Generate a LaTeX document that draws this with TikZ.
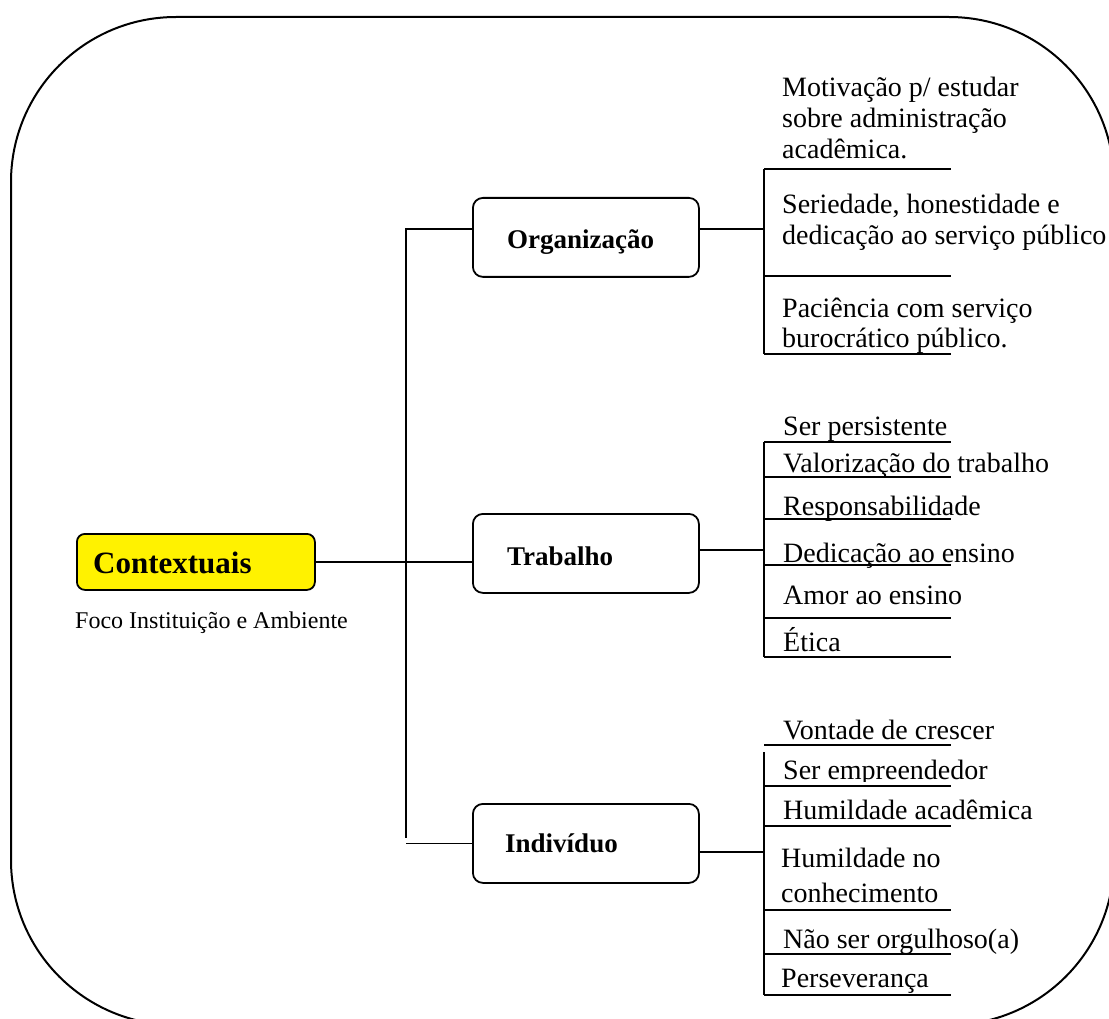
\documentclass[tikz,border=0pt]{standalone}
\usepackage{fontspec}
\setmainfont{Liberation Serif}
\begin{document}
\begin{tikzpicture}[x=1pt,y=-1pt,
  rule/.style={line width=1.8pt},
  conn/.style={line width=1.8pt},
  catbox/.style={draw, line width=1.8pt, rounded corners=10pt, minimum width=226pt,
    minimum height=79pt, anchor=north west},
  catlabel/.style={anchor=base west, inner sep=0pt, font=\fontsize{27}{32}\selectfont\bfseries},
  item/.style={anchor=base west, inner sep=0pt, font=\fontsize{28}{32}\selectfont}]
\useasboundingbox (0,0) rectangle (1109,1019);
% outer frame
\begin{scope}
  \clip (0,0) rectangle (1109,1019);
  \draw[line width=2pt, rounded corners=165pt] (11,17) rectangle (1114,1025);
\end{scope}
% central node
\node[draw, line width=1.8pt, fill=yellow, rounded corners=8pt, anchor=north west,
  minimum width=238pt, minimum height=56pt] (ctx) at (76,533) {};
\node[anchor=base west, inner sep=0pt, font=\fontsize{31}{36}\selectfont\bfseries] (ctxl) at (93,573) {Contextuais};
\node[anchor=base west, inner sep=0pt, font=\fontsize{24}{28}\selectfont] (foco) at (75,628) {Foco Instituição e Ambiente};
% category boxes
\node[catbox] (org) at (472,197) {};
\node[catlabel] (orgl) at (507,249) {Organização};
\node[catbox] (trab) at (472,513) {};
\node[catlabel] (trabl) at (507,565) {Trabalho};
\node[catbox] (ind) at (472,803) {};
\node[catlabel] (indl) at (505,852) {Indivíduo};
% trunk connectors
\coordinate (ja) at (406,229);
\coordinate (jb) at (406,838);
\draw[conn] (ctx.east) -- (ctx.east -| trab.west);
\draw[conn] (org.west |- ja) -- (ja) -- (jb);
\draw[conn] (ind.west) -- (ind.west -| ja);
% branch connectors to brackets
\coordinate (bo) at (764,229);
\coordinate (bt) at (764,550);
\coordinate (bi) at (764,852);
\draw[conn] (org.east |- bo) -- (bo);
\draw[conn] (trab.east |- bt) -- (bt);
\draw[conn] (ind.east |- bi) -- (bi);
% brackets
\draw[rule] (764,169) -- (764,354);
\draw[rule] (764,442) -- (764,657);
\draw[rule] (764,752) -- (764,995);
% rules
\foreach \y in {169,276,354} \draw[rule] (764,\y) -- (951,\y);
\foreach \y in {442,477,519,565,618,657} \draw[rule] (764,\y) -- (951,\y);
\foreach \y in {745,786,826,910,954,995} \draw[rule] (764,\y) -- (951,\y);
% Organizacao items
\node[item] (o1) at (782,97) {Motivação p/ estudar};
\node[item] (o2) at (782,128) {sobre administração};
\node[item] (o3) at (782,159) {acadêmica.};
\node[item] (o4) at (782,214) {Seriedade, honestidade e};
\node[item] (o5) at (782,245) {dedicação ao serviço público};
\node[item] (o6) at (782,317) {Paciência com serviço};
\node[item] (o7) at (782,347) {burocrático público.};
% Trabalho items
\begin{scope}
  \clip (760,380) rectangle (1000,440);
  \node[item] (t1) at (783,435) {Ser persistente};
\end{scope}
\node[item] (t2) at (783,472) {Valorização do trabalho};
\node[item] (t3) at (783,515) {Responsabilidade};
\node[item] (t4) at (783,562) {Dedicação ao ensino};
\node[item] (t5) at (783,604) {Amor ao ensino};
\node[item] (t6) at (783,651) {Ética};
% Individuo items
\node[item] (i1) at (783,739) {Vontade de crescer};
\begin{scope}
  \clip (760,750) rectangle (1000,781);
  \node[item] (i2) at (783,779) {Ser empreendedor};
\end{scope}
\node[item] (i3) at (783,819) {Humildade acadêmica};
\node[item] (i4) at (781,867) {Humildade no};
\node[item] (i5) at (781,902) {conhecimento};
\node[item] (i6) at (783,948) {Não ser orgulhoso(a)};
\node[item] (i7) at (781,987) {Perseverança};
\end{tikzpicture}
\end{document}
